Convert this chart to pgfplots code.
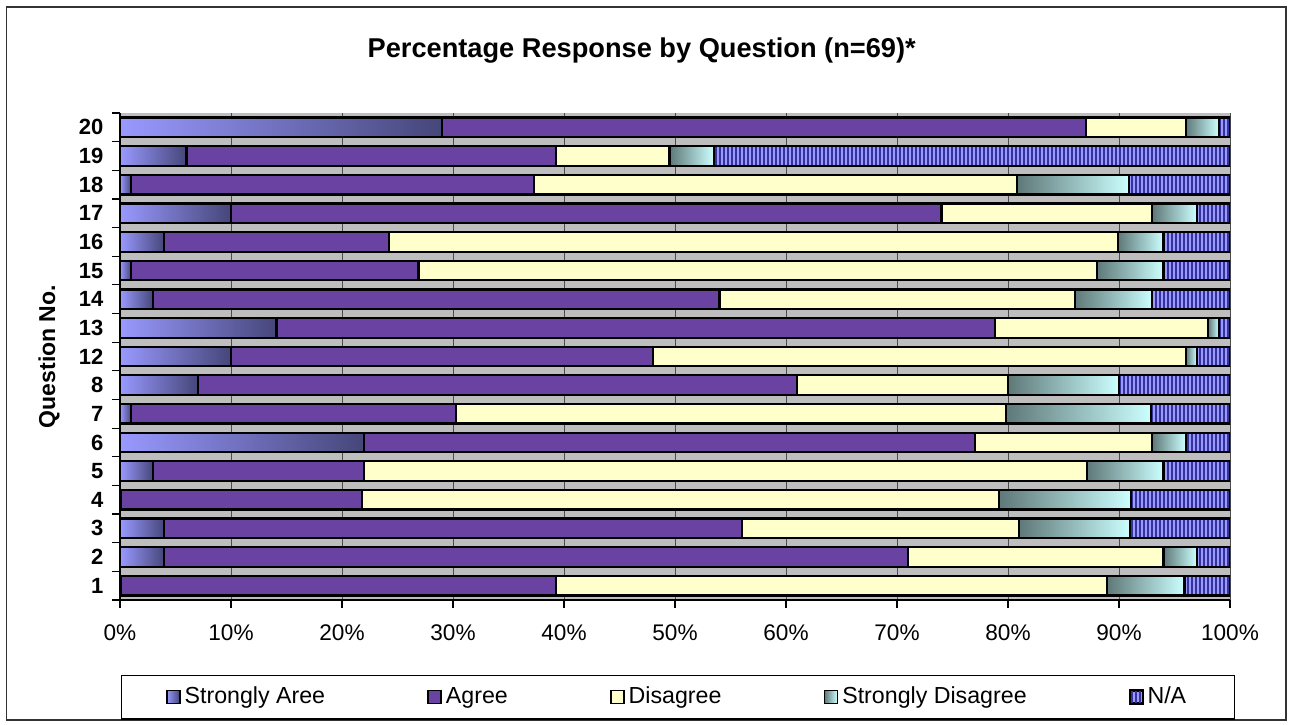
\documentclass[border=0pt]{standalone}
\usepackage{fontspec}
\setmainfont{Liberation Sans}
\usepackage{pgfplots}
\usepackage{pgfplotstable}
\pgfplotsset{compat=1.18}
\usetikzlibrary{patterns.meta}
\definecolor{saL}{HTML}{9999FF}
\definecolor{saR}{HTML}{46467A}
\definecolor{agr}{HTML}{6A42A2}
\definecolor{dis}{HTML}{FFFFCC}
\definecolor{sdL}{HTML}{5F7878}
\definecolor{sdR}{HTML}{CCFFFF}
\definecolor{naL}{HTML}{9999FF}
\definecolor{naD}{HTML}{333399}
\definecolor{plotbg}{HTML}{BEBEBE}

\pgfplotstableread{
pos sa ag di sd na
1 0.1 39.2 49.6 7.0 4.1
2 4 67 23 3 3
3 4 52 25 10 9
4 0.1 21.7 57.4 11.9 8.9
5 3 19 65.1 6.9 6
6 22 55 16 3 4
7 1 29.3 49.5 13.1 7.1
8 7 54 19 10 10
9 10 38 48 1 3
10 14.1 64.7 19.2 1 1
11 3 51 32 7 7
12 1 25.9 61.1 6 6
13 4 20.2 65.7 4.1 6
14 10 64 19 4 3
15 1 36.3 43.5 10.1 9.1
16 6 33.3 10.2 4 46.5
17 29 58 9 3 1
}\data

% shaded bar segments drawn as marks at the stacked end of each segment
% (5.55pt per percent: axis width 555pt for 0..100)
\pgfdeclareplotmark{sabar}{%
  \shade[left color=saL, right color=saR] ({-5.55pt*\wsa},-4.9pt) rectangle (0pt,4.9pt);
  \draw[black, line width=1.1pt] ({-5.55pt*\wsa},-4.9pt) rectangle (0pt,4.9pt);
}
\pgfdeclareplotmark{sdbar}{%
  \shade[left color=sdL, right color=sdR] ({-5.55pt*\wsd},-4.9pt) rectangle (0pt,4.9pt);
  \draw[black, line width=1.1pt] ({-5.55pt*\wsd},-4.9pt) rectangle (0pt,4.9pt);
}

\pgfplotsset{
  sqleg/.style={legend image code/.code={\draw[##1, draw=black, line width=0.9pt] (0pt,-3.25pt) rectangle (6.5pt,3.25pt);}}
}

\begin{document}
\begin{tikzpicture}
\useasboundingbox (0,0) rectangle (646pt,362pt);
\draw[black!80, line width=0.8pt] (3.3pt,2pt) rectangle (643pt,358.6pt);
\begin{axis}[
  at={(60pt,62pt)}, anchor=south west,
  scale only axis, width=555pt, height=243.5pt,
  xbar stacked, bar width=9.8pt,
  xmin=0, xmax=100, ymin=0.5, ymax=17.5,
  axis background/.style={fill=plotbg},
  axis x line*=bottom, axis y line*=left,
  axis line style={black, line width=1pt},
  tick align=outside, major tick length=4pt, minor tick length=4pt,
  tick style={black, line width=0.6pt},
  xtick={0,10,...,100},
  xticklabels={0\%,10\%,20\%,30\%,40\%,50\%,60\%,70\%,80\%,90\%,100\%},
  xticklabel style={font=\fontsize{11.3}{13}\selectfont, anchor=north, yshift=-5pt},
  ytick={1,2,...,17},
  yticklabels={1,2,3,4,5,6,7,8,12,13,14,15,16,17,18,19,20},
  minor ytick={0.5,1.5,...,17.5},
  major y tick style={draw=none},
  yticklabel style={font=\bfseries\fontsize{11}{13}\selectfont, anchor=east, xshift=-0.8pt},
  xmajorgrids, major grid style={draw=black!70, line width=0.5pt},
  title={Percentage Response by Question (n=69)*},
  title style={at={(axis description cs:0.470,1.1027)}, anchor=center, yshift=0pt, font=\bfseries\fontsize{13.6}{16}\selectfont},
  ylabel={Question No.},
  every axis y label/.style={at={(axis description cs:-0.064,0.5)}, rotate=90, anchor=center, font=\bfseries\fontsize{11.5}{13}\selectfont},
  legend columns=5,
  legend cell align=left,
  legend style={at={(axis description cs:0.5027,-0.1992)}, anchor=center, draw=black, line width=0.6pt, fill=white,
    font=\fontsize{11.6}{14}\selectfont, inner xsep=22pt, inner ysep=4pt,
    /tikz/every odd column/.append style={column sep=0pt},
    /tikz/every even column/.append style={column sep=49pt}},
]
\addplot[sqleg, draw=none, fill=none, mark=sabar, visualization depends on={\thisrow{sa} \as \wsa},
  legend image code/.code={\shade[left color=saL, right color=saR] (0pt,-3.25pt) rectangle (6.5pt,3.25pt);
    \draw[black, line width=0.9pt] (0pt,-3.25pt) rectangle (6.5pt,3.25pt);}]
  table[x=sa, y=pos]{\data};
\addplot[sqleg, draw=black, line width=1.1pt, fill=agr] table[x=ag, y=pos]{\data};
\addplot[sqleg, draw=black, line width=1.1pt, fill=dis] table[x=di, y=pos]{\data};
\addplot[sqleg, draw=none, fill=none, mark=sdbar, visualization depends on={\thisrow{sd} \as \wsd},
  legend image code/.code={\shade[left color=sdL, right color=sdR] (0pt,-3.25pt) rectangle (6.5pt,3.25pt);
    \draw[black, line width=0.9pt] (0pt,-3.25pt) rectangle (6.5pt,3.25pt);}]
  table[x=sd, y=pos]{\data};
\addplot[sqleg, draw=black, line width=1.1pt, preaction={fill=naL}, pattern={Lines[angle=90,distance=2pt,line width=0.7pt]}, pattern color=naD] table[x=na, y=pos]{\data};
\legend{Strongly Aree, Agree, Disagree, Strongly Disagree, N/A}
\end{axis}
\end{tikzpicture}
\end{document}
